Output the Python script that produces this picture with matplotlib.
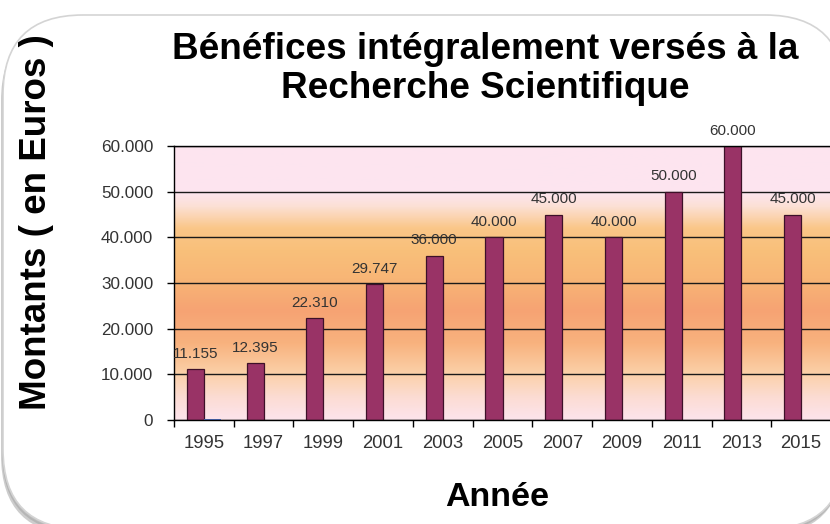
import matplotlib
matplotlib.use('Agg')
import matplotlib.pyplot as plt
from matplotlib.patches import FancyBboxPatch
from matplotlib.colors import LinearSegmentedColormap
import numpy as np

# Data
annees = ['1995', '1997', '1999', '2001', '2003', '2005', '2007', '2009', '2011', '2013', '2015']
montants = [11155, 12395, 22310, 29747, 36000, 40000, 45000, 40000, 50000, 60000, 45000]
montants_bleu = [300, 0, 0, 0, 0, 0, 0, 0, 0, 0, 0]  # tiny second series, only visible in 1995
y_ticks = [0, 10000, 20000, 30000, 40000, 50000, 60000]

TITLE = 'Bénéfices intégralement versés à la\nRecherche Scientifique'
YLABEL = 'Montants ( en Euros )'
XLABEL = 'Année'

plt.rcParams['font.family'] = ['Liberation Sans', 'DejaVu Sans']


def fmt(v):
	# thousands separator is a dot
	return '{:,.0f}'.format(v).replace(',', '.')


W, H = 830, 524
fig = plt.figure(figsize=(W / 100, H / 100), dpi=100)
fig.patch.set_facecolor('white')

# rounded card behind everything
bg = fig.add_axes([0, 0, 1, 1], zorder=-10)
bg.set_xlim(0, W)
bg.set_ylim(H, 0)
bg.axis('off')
for dx, dy, col, a in [(-2, 6, '#707070', 0.35), (-1, 3.5, '#999999', 0.45), (-0.5, 1.5, '#c8c8c8', 0.6)]:
	bg.add_patch(FancyBboxPatch((3 + dx, 15 + dy), 842, 514,
		boxstyle='round,pad=0,rounding_size=80', facecolor=col, edgecolor='none', alpha=a))
bg.add_patch(FancyBboxPatch((3, 15), 842, 514, boxstyle='round,pad=0,rounding_size=80',
	facecolor='white', edgecolor='#d4d4d4', linewidth=1.2))

# plot area
ax = fig.add_axes([174 / W, (H - 420) / H, 657 / W, 274 / H])
x = np.arange(len(annees))
ax.set_xlim(-0.5, len(annees) - 0.5)
ax.set_ylim(0, 60000)

# gradient background of the plot area
stops = [(0.0, '#fce4ec'), (0.08, '#fcdcd4'), (0.17, '#fbd0a8'), (0.28, '#f8b27e'),
	(0.40, '#f6a373'), (0.52, '#f8b676'), (0.62, '#f9c07a'), (0.70, '#fac688'),
	(0.78, '#fce0d4'), (0.83, '#fde5ef'), (1.0, '#fde4f0')]
cmap = LinearSegmentedColormap.from_list('fond', stops)
grad = np.linspace(0, 1, 256).reshape(-1, 1)
ax.imshow(grad, cmap=cmap, origin='lower', aspect='auto',
	extent=(-0.5, len(annees) - 0.5, 0, 60000), zorder=0)

ax.set_axisbelow(True)
ax.yaxis.grid(True, color='#1a1a1a', linewidth=1.0)

bw = 0.285
bars = ax.bar(x - bw / 2, montants, width=bw, color='#993366', edgecolor='#3d1028', linewidth=0.9, zorder=2)
ax.bar(x + bw / 2, montants_bleu, width=bw, color='#4f6fc0', linewidth=0, zorder=2)
ax.bar_label(bars, labels=[fmt(v) for v in montants], padding=6, fontsize=11, color='#333333')

# ticks
ax.set_yticks(y_ticks)
ax.set_yticklabels([fmt(v) for v in y_ticks], fontsize=12.3, color='#333333')
ax.tick_params(axis='y', direction='out', length=5, width=1, pad=10, color='black')
ax.set_xticks(x)
ax.set_xticklabels(annees, fontsize=13.3, color='#333333')
ax.set_xticks(np.arange(len(annees) + 1) - 0.5, minor=True)
ax.tick_params(axis='x', which='major', length=0, pad=11)
ax.tick_params(axis='x', which='minor', direction='out', length=5, width=1, color='black')

for s in ['left', 'bottom', 'top']:
	ax.spines[s].set_color('black')
	ax.spines[s].set_linewidth(1.0)
ax.spines['right'].set_visible(False)

# texts
fig.text(485 / W, 1 - 69 / H, TITLE, ha='center', va='center', fontsize=26.6,
	fontweight='bold', linespacing=1.17, color='black')
fig.text(37 / W, 1 - 222 / H, YLABEL, ha='center', va='center', rotation=90,
	fontsize=26.5, fontweight='bold', color='black')
fig.text(497 / W, 1 - 497 / H, XLABEL, ha='center', va='center', fontsize=24.5,
	fontweight='bold', color='black')

fig.savefig('out.png', dpi=100)
